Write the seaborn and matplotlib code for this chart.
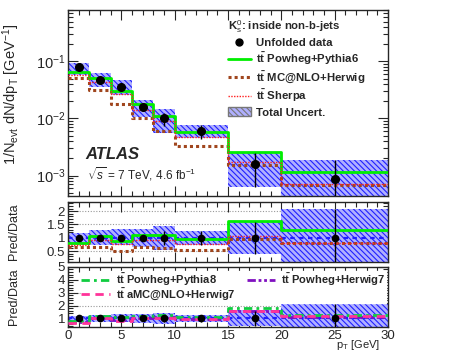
import numpy as np
import pandas as pd
import matplotlib
matplotlib.use("Agg")
import matplotlib.pyplot as plt
from matplotlib.lines import Line2D
from matplotlib.patches import Patch
import seaborn as sns

# bins in pT [GeV]
edges = [0, 2, 4, 6, 8, 10, 15, 20, 30]
centers = [1, 3, 5, 7, 9, 12.5, 17.5, 25]

# unfolded data, 1/N dN/dpT
data = [0.079, 0.048, 0.035, 0.0159, 0.0100, 0.0061, 0.0016, 0.00088]
# relative data error and total uncertainty band
err_up = [0.06, 0.07, 0.08, 0.12, 0.27, 0.27, 0.58, 1.10]
err_dn = [0.06, 0.07, 0.08, 0.12, 0.27, 0.27, 0.60, 0.98]
band_up = [0.18, 0.30, 0.33, 0.33, 0.46, 0.27, 0.62, 1.10]
band_dn = [0.26, 0.26, 0.26, 0.33, 0.45, 0.26, 0.61, 0.92]

# Pred/Data ratios
r_powheg_py6 = [0.82, 1.05, 0.86, 1.11, 1.11, 0.96, 1.62, 1.29]
r_mcnlo_hw = [0.64, 0.67, 0.52, 0.64, 0.61, 0.55, 0.95, 0.79]
r_sherpa = [0.74, 0.92, 0.78, 0.90, 0.90, 0.78, 1.08, 0.81]
r_powheg_py8 = [0.82, 1.18, 1.13, 1.18, 1.24, 1.13, 1.79, 1.29]
r_powheg_hw7 = [0.75, 1.05, 0.90, 1.05, 1.10, 0.98, 1.55, 1.15]
r_amcnlo_hw7 = [0.68, 1.00, 0.82, 1.00, 1.00, 0.92, 1.60, 1.18]

sns.set_theme(style="ticks")
plt.rcParams["font.family"] = ["Liberation Sans", "DejaVu Sans"]
plt.rcParams["mathtext.fontset"] = "custom"
plt.rcParams["mathtext.rm"] = "Liberation Sans"
plt.rcParams["mathtext.it"] = "Liberation Sans:italic"
plt.rcParams["mathtext.bf"] = "Liberation Sans:bold"
plt.rcParams["hatch.linewidth"] = 0.8

TT = r"$\mathbf{t\bar{t}}$"
BLUE = "#2020ff"
BANDFC = "#b0b0ff"
GREEN = "#00ee00"
BROWN = "#a0461e"
RED = "#ff2020"
GREEN8 = "#10cc40"
PURPLE = "#8010c0"
PINK = "#ff3399"
HATCH = "\\\\\\\\\\\\"


def step_df(vals):
    return pd.DataFrame({"x": edges, "y": list(vals) + [vals[-1]]})


def draw_steps(ax, vals, **kw):
    d = step_df(vals)
    sns.lineplot(data=d, x="x", y="y", drawstyle="steps-post", estimator=None,
                 sort=False, ax=ax, **kw)


def draw_band(ax, lo, hi):
    lo = list(lo) + [lo[-1]]
    hi = list(hi) + [hi[-1]]
    ax.fill_between(edges, lo, hi, step="post", facecolor=BANDFC,
                    edgecolor=BLUE, hatch=HATCH, linewidth=0, zorder=1)


def style_axis(ax):
    ax.tick_params(which="both", direction="in", top=True, right=True,
                   labelsize=9.5, pad=2)
    ax.tick_params(which="major", length=7, width=0.8)
    ax.tick_params(which="minor", length=3.5, width=0.8)
    ax.set_xlim(0, 30)
    ax.set_xticks([0, 5, 10, 15, 20, 25, 30])
    ax.set_xticks(np.arange(0, 31, 1), minor=True)
    for s in ax.spines.values():
        s.set_linewidth(1.0)
    ax.set_xlabel("")
    ax.set_ylabel("")


fig = plt.figure(figsize=(4.56, 3.54), dpi=100)
ax1 = fig.add_axes([0.149, 0.445, 0.702, 0.527])
ax2 = fig.add_axes([0.149, 0.260, 0.702, 0.169])
ax3 = fig.add_axes([0.149, 0.076, 0.702, 0.170])

data_a = np.array(data)
ones = np.ones(len(data))

# ---- top panel
draw_band(ax1, data_a * (1 - np.array(band_dn)), data_a * (1 + np.array(band_up)))
draw_steps(ax1, data_a * np.array(r_mcnlo_hw), color=BROWN, lw=2.2, ls=(0, (1, 1)), zorder=3)
draw_steps(ax1, data_a * np.array(r_sherpa), color=RED, lw=1.0, ls=(0, (1, 1)), zorder=4)
draw_steps(ax1, data_a * np.array(r_powheg_py6), color=GREEN, lw=2.0, zorder=3)
ax1.errorbar(centers, data_a, yerr=[data_a * np.array(err_dn), data_a * np.array(err_up)],
             fmt="o", color="black", ms=5.5, elinewidth=1.0, capsize=0, zorder=6)
ax1.set_yscale("log")
ax1.set_ylim(4.3e-4, 0.8)
style_axis(ax1)
ax1.tick_params(axis="y", labelsize=10.5)
ax1.set_yticks([1e-3, 1e-2, 1e-1])
ax1.set_yticklabels([r"$10^{-3}$", r"$10^{-2}$", r"$10^{-1}$"])
ax1.tick_params(labelbottom=False)
ax1.set_ylabel(r"1/N$_\mathrm{evt}$ dN/dp$_\mathrm{T}$ [GeV$^{-1}$]", fontsize=10.5)
ax1.yaxis.set_label_coords(-0.145, 0.55)
ax1.text(0.055, 0.225, "ATLAS", transform=ax1.transAxes, fontsize=12,
         fontweight="bold", fontstyle="italic", va="center")
ax1.text(0.058, 0.12, r"$\sqrt{s}$ = 7 TeV, 4.6 fb$^{-1}$", transform=ax1.transAxes,
         fontsize=8.5, va="center")

handles = [
    Line2D([], [], color="black", marker="o", ms=5, ls="none"),
    Line2D([], [], color=GREEN, lw=2.0),
    Line2D([], [], color=BROWN, lw=2.2, ls=(0, (1, 1))),
    Line2D([], [], color=RED, lw=1.0, ls=(0, (1, 1))),
    Patch(facecolor=BANDFC, edgecolor="#777777", hatch=HATCH, linewidth=1.0),
]
labels = ["Unfolded data", TT + " Powheg+Pythia6", TT + " MC@NLO+Herwig",
          TT + " Sherpa", "Total Uncert."]
leg = ax1.legend(handles, labels, loc="upper left", bbox_to_anchor=(0.5, 0.955),
                 frameon=False, prop={"size": 8.2, "weight": "bold"},
                 handlelength=2.0, handleheight=0.9, handletextpad=0.5,
                 labelspacing=0.22, title=r"K$^0_\mathrm{s}$: inside non-b-jets",
                 title_fontproperties={"size": 8.2, "weight": "bold"},
                 alignment="left", borderaxespad=0, borderpad=0)

# ---- middle ratio panel
for yv in [0.5, 1.5, 2.0]:
    ax2.axhline(yv, color="#999999", lw=0.8, ls=(0, (1, 1.5)), zorder=0)
draw_band(ax2, ones - np.array(band_dn), ones + np.array(band_up))
ax2.axhline(1.0, color=BLUE, lw=1.6, ls=(0, (2, 2)), zorder=2)
draw_steps(ax2, r_mcnlo_hw, color=BROWN, lw=2.2, ls=(0, (1, 1)), zorder=3)
draw_steps(ax2, r_sherpa, color=RED, lw=1.0, ls=(0, (1, 1)), zorder=4)
draw_steps(ax2, r_powheg_py6, color=GREEN, lw=2.0, zorder=3)
ax2.errorbar(centers, ones, yerr=[err_dn, err_up], fmt="o", color="black", ms=4.5,
             elinewidth=1.0, capsize=0, zorder=6)
ax2.set_ylim(0.09, 2.34)
style_axis(ax2)
ax2.set_yticks([0.5, 1, 1.5, 2])
ax2.set_yticklabels(["0.5", "1", "1.5", "2"])
ax2.set_yticks(np.arange(0.1, 2.35, 0.1), minor=True)
ax2.tick_params(labelbottom=False)
ax2.set_ylabel("Pred/Data", fontsize=9)
ax2.yaxis.set_label_coords(-0.15, 0.5)

# ---- bottom ratio panel
for yv in [2.0, 3.0]:
    ax3.axhline(yv, color="#999999", lw=0.8, ls=(0, (1, 1.5)), zorder=0)
draw_band(ax3, ones - np.array(band_dn), ones + np.array(band_up))
ax3.axhline(1.0, color=BLUE, lw=1.6, ls=(0, (2, 2)), zorder=2)
draw_steps(ax3, r_powheg_hw7, color=PURPLE, lw=2.0, ls=(0, (3, 1, 1, 1, 1, 1)), zorder=3)
draw_steps(ax3, r_amcnlo_hw7, color=PINK, lw=2.0, ls=(0, (3, 2)), zorder=4)
draw_steps(ax3, r_powheg_py8, color=GREEN8, lw=2.0, ls=(0, (3, 1.5, 1, 1.5)), zorder=3)
ax3.errorbar(centers, ones, yerr=[err_dn, err_up], fmt="o", color="black", ms=4.5,
             elinewidth=1.0, capsize=0, zorder=6)
ax3.set_ylim(0.33, 5.0)
style_axis(ax3)
ax3.set_yticks([1, 2, 3, 4, 5])
ax3.set_yticks(np.arange(0.4, 5.01, 0.2), minor=True)
ax3.set_ylabel("Pred/Data", fontsize=9)
ax3.yaxis.set_label_coords(-0.15, 0.5)
ax3.text(0.975, -0.41, r"p$_\mathrm{T}$ [GeV]", transform=ax3.transAxes,
         fontsize=8, ha="right", va="bottom")

h3 = [Line2D([], [], color=GREEN8, lw=2.0, ls=(0, (3, 1.5, 1, 1.5))),
      Line2D([], [], color=PINK, lw=2.0, ls=(0, (3, 2))),
      Line2D([], [], color=PURPLE, lw=2.0, ls=(0, (3, 1, 1, 1, 1, 1)))]
l3 = [TT + " Powheg+Pythia8", TT + " aMC@NLO+Herwig7", TT + " Powheg+Herwig7"]
ax3.legend(h3, l3, loc="upper left", bbox_to_anchor=(0.04, 0.93), ncol=2,
           frameon=True, facecolor="white", edgecolor="white", framealpha=1,
           prop={"size": 8.0, "weight": "bold"}, handlelength=2.6,
           handleheight=0.6, handletextpad=0.5, columnspacing=1.0,
           labelspacing=-0.15, borderaxespad=0, borderpad=0.05, fancybox=False)

fig.savefig("out.png", dpi=100)
